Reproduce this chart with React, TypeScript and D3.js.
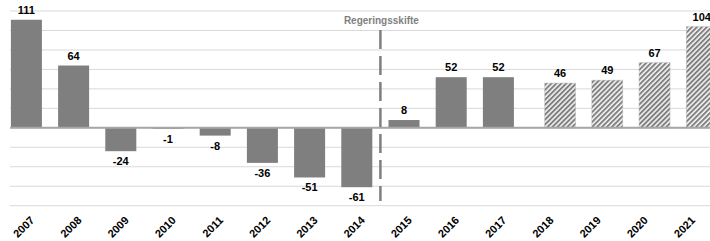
import React from "react";
import * as d3 from "d3";

const years = ["2007","2008","2009","2010","2011","2012","2013","2014","2015","2016","2017","2018","2019","2020","2021"];
const actual: (number | null)[] = [111, 64, -24, -1, -8, -36, -51, -61, 8, 52, 52, null, null, null, null];
const forecast: (number | null)[] = [null, null, null, null, null, null, null, null, null, null, null, 46, 49, 67, 104];
const yTicks = [-80, -60, -40, -20, 0, 20, 40, 60, 80, 100, 120];
const markerLabel = "Regeringsskifte";
const markerAfter = "2014";

const W = 710, H = 241;
const FONT = "'Liberation Sans', Arial, sans-serif";

export default function App() {
  const x = d3.scaleBand<string>().domain(years).range([10, 10 + 15 * 47.2]).padding(0);
  const y = d3.scaleLinear().domain([-80, 120]).range([205.7, 11]);
  const bw = x.bandwidth();
  const barW = bw * 0.657;
  const offA = bw * 0.019;
  const offB = bw * 0.327;

  const barTop = (v: number) => (v >= 0 ? y(v) : y(0));
  const barH = (v: number) => Math.abs(y(v) - y(0));

  const idx = years.indexOf(markerAfter);
  const markerX = ((x(years[idx])! + offA + barW) + (x(years[idx + 1])! + offA)) / 2;

  const labelFor = (v: number, cx: number, key: string) => (
    <text key={key} x={cx} y={v >= 0 ? y(v) - 6 : y(v) + 14} textAnchor="middle"
      fontFamily={FONT} fontWeight="bold" fontSize={11} fill="#000">{v}</text>
  );

  return (
    <svg width={W} height={H} style={{ position: "absolute", left: 0, top: 0, background: "#fff" }}>
      <defs>
        <pattern id="hatch" width="3.5" height="3.5" patternUnits="userSpaceOnUse" patternTransform="rotate(45)">
          <rect width="3.5" height="3.5" fill="#f2f2f2" />
          <rect width="1.9" height="3.5" fill="#7f7f7f" />
        </pattern>
      </defs>
      {yTicks.map(t => (
        <line key={t} x1={10} x2={W} y1={y(t)} y2={y(t)} stroke="#d9d9d9" strokeWidth={1} />
      ))}
      {years.map((yr, i) => {
        const v = actual[i];
        if (v == null) return null;
        return <rect key={"a" + yr} x={x(yr)! + offA} y={barTop(v)} width={barW} height={barH(v)} fill="#7f7f7f" />;
      })}
      {years.map((yr, i) => {
        const v = forecast[i];
        if (v == null) return null;
        return <rect key={"f" + yr} x={x(yr)! + offB} y={barTop(v)} width={barW} height={barH(v)} fill="url(#hatch)" stroke="#bfbfbf" strokeWidth={0.5} />;
      })}
      <line x1={10} x2={W} y1={y(0)} y2={y(0)} stroke="#a6a6a6" strokeWidth={2} />
      <line x1={markerX} x2={markerX} y1={y(100) - 0.5} y2={201} stroke="#7f7f7f" strokeWidth={2.5} strokeDasharray="19,7" />
      <text x={markerX + 1} y={24} textAnchor="middle" fontFamily={FONT} fontWeight="bold" fontSize={10} fill="#808080">{markerLabel}</text>
      {years.map((yr, i) => {
        const v = actual[i];
        if (v == null) return null;
        return labelFor(v, x(yr)! + offA + barW / 2, "la" + yr);
      })}
      {years.map((yr, i) => {
        const v = forecast[i];
        if (v == null) return null;
        return labelFor(v, x(yr)! + offB + barW / 2, "lf" + yr);
      })}
      {years.map(yr => {
        const cx = x(yr)! + bw / 2 + 1.5;
        const cy = 221;
        return (
          <text key={"t" + yr} x={cx} y={cy} transform={`rotate(-45, ${cx}, ${cy})`} textAnchor="end"
            fontFamily={FONT} fontWeight="bold" fontSize={11} fill="#000">{yr}</text>
        );
      })}
    </svg>
  );
}
